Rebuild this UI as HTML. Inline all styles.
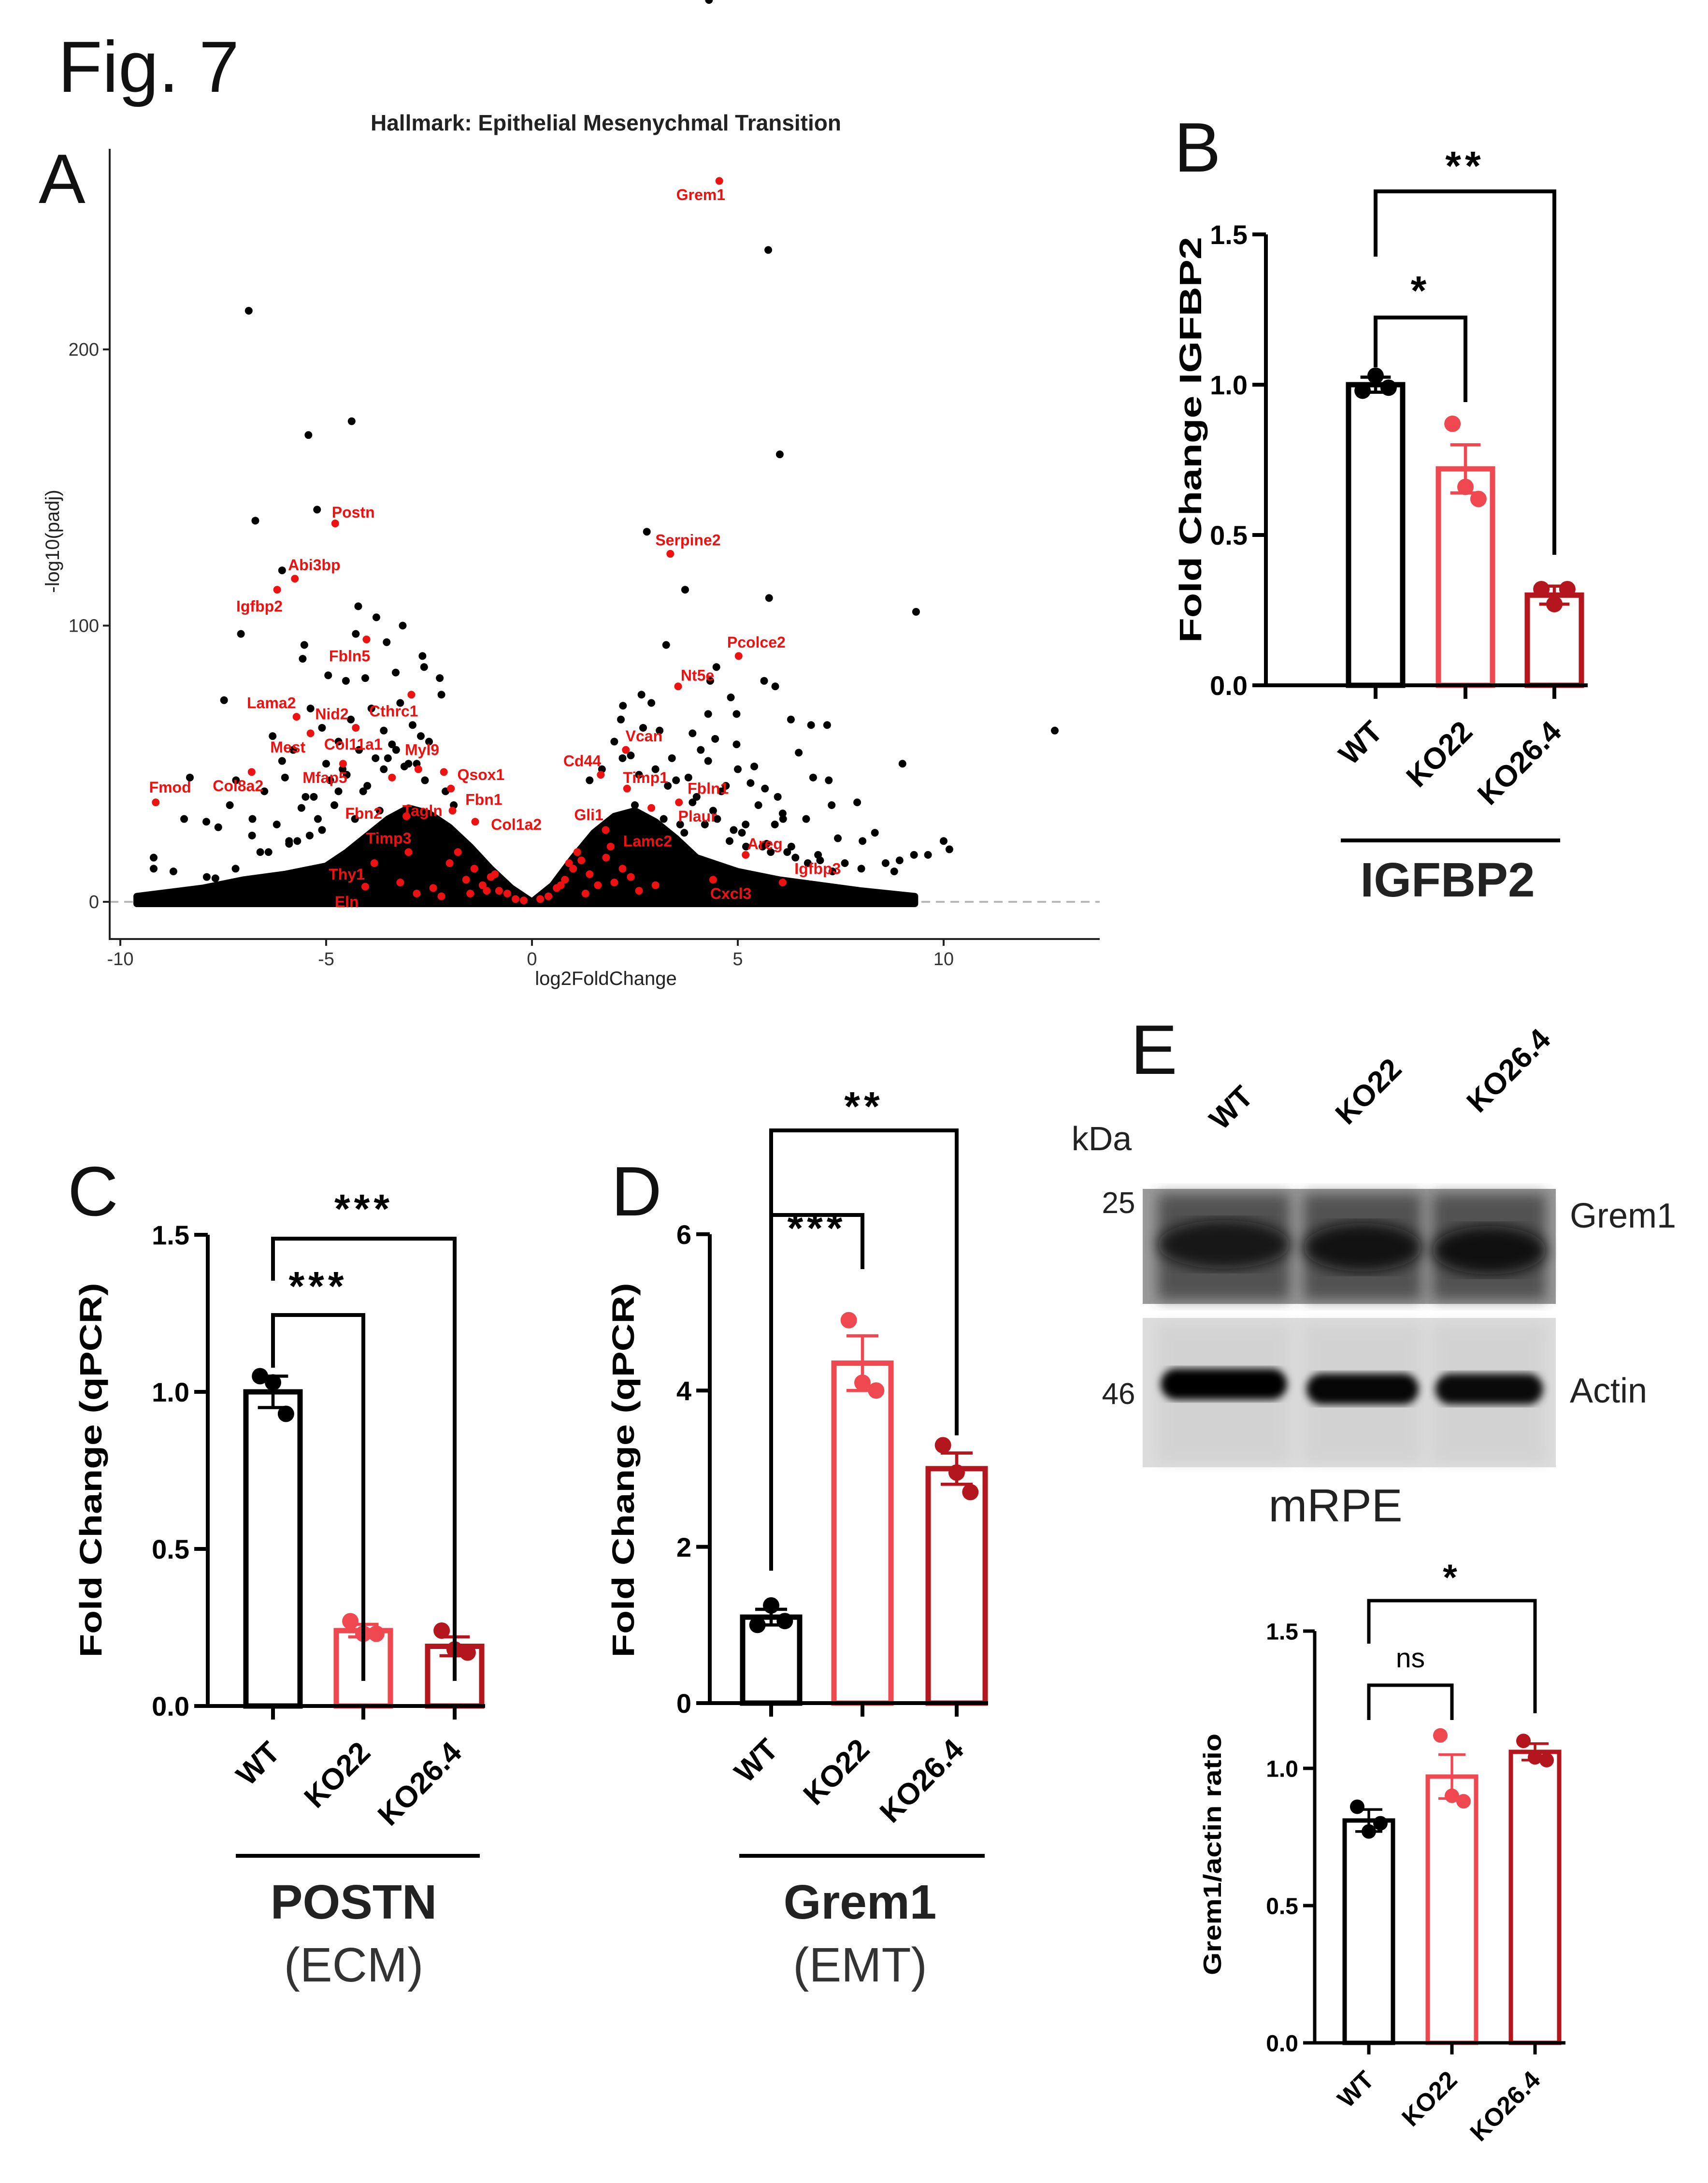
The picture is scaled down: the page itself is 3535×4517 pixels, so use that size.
<!DOCTYPE html>
<html><head><meta charset="utf-8">
<style>
html,body{margin:0;padding:0;background:#fff;}
svg{display:block;font-family:"Liberation Sans",Arial,sans-serif;}
</style></head>
<body>
<svg id="fig" xmlns="http://www.w3.org/2000/svg" width="3535" height="4517" viewBox="0 0 3535 4517">
<defs>
<filter id="blur8"><feGaussianBlur stdDeviation="14"/></filter>
<filter id="blur4"><feGaussianBlur stdDeviation="8"/></filter>
</defs>
<rect width="3535" height="4517" fill="#fff"/>
<text x="120" y="190" font-size="150" fill="#111">Fig. 7</text>
<text x="80" y="420" font-size="145" fill="#111">A</text>
<text x="2430" y="355" font-size="145" fill="#111">B</text>
<text x="140" y="2515" font-size="145" fill="#111">C</text>
<text x="1265" y="2515" font-size="145" fill="#111">D</text>
<text x="2340" y="2222" font-size="145" fill="#111">E</text>
<g id="volcano"></g>
<g id="chartB"></g>
<g id="chartC"></g>
<g id="chartD"></g>
<g id="blot"></g>
<g id="chartE"></g>
</svg>
<script>
// ===== Volcano data =====
const vGenes = ['Grem1','Postn','Serpine2','Abi3bp','Igfbp2','Pcolce2','Nt5e','Fbln5','Lama2','Cthrc1','Nid2','Col11a1','Mest','Myl9','Mfap5','Qsox1','Col8a2','Fmod','Fbn1','Vcan','Cd44','Timp1','Fbln1','Plaur','Gli1','Lamc2','Areg','Igfbp3','Cxcl3','Col1a2','Tagln','Fbn2','Timp3','Thy1','Eln'];
const vGeneX = [4.55,-4.78,3.36,-5.76,-6.19,5.02,3.55,-4.02,-5.72,-2.93,-4.28,-5.38,-4.59,-2.76,-3.40,-2.14,-6.81,-9.14,-1.97,2.28,1.67,2.31,3.57,2.90,1.79,1.91,5.19,6.09,4.40,-1.38,-1.93,-3.05,-3.0,-3.83,-4.05];
const vGeneY = [261,137,126,117,113,89,78,95,67,75,63,61,50,48,45,47,47,36,41,55,46,41,36,34,26,20,17,7,8,29,33,31,18,14,5.5];
const vLabelX = [4.10,-4.34,3.79,-5.29,-6.62,5.45,4.02,-4.43,-6.33,-3.36,-4.86,-4.34,-5.93,-2.67,-5.03,-1.24,-7.14,-8.79,-1.17,2.72,1.22,2.76,4.28,4.02,1.38,2.81,5.66,6.94,4.83,-0.38,-2.66,-4.09,-3.48,-4.5,-4.5];
const vLabelY = [256,141,131,122,107,94,82,89,72,69,68,57,56,55,45,46,42,41.5,37,60,51,45,41,31,31.5,22,21,12,3,28,33,32,23,10,0];
const vBlackX = [5.74,-6.88,-4.38,-5.43,6.02,-5.22,-6.72,2.79,3.72,5.76,9.33,-6.07,-4.22,-7.07,-3.78,-3.14,12.7,3.26,-5.53,-5.57,-2.66,-4.28,-3.53,4.48,5.64,5.91,-7.48,6.29,6.78,7.17,6.48,6.83,7.21,7.28,6.66,8.33,8.03,10.0,10.14,9.28,-8.31,-7.19,-7.34,-8.45,-7.91,-7.62,-6.79,-9.19,-9.19,-8.71,-7.9,-7.69,-6.07,-5.38,-4.95,-4.52,-4.05,-3.31,-2.62,-2.24,4.71,5.31,5.66,5.97,6.09,5.9,5.19,2.66,2.9,2.21,2.16,4.33,4.83,4.97,4.28,3.9,4.45,4.97,4.28,5.4,6.95,7.43,8.59,8.93,9.62,-6.3,-5.8,-5.1,-4.7,-4.4,-3.9,-3.6,-3.2,-2.9,-2.5,-2.2,-1.9,-6.5,-6.0,-5.5,-5.0,-4.6,-4.2,-3.8,-3.4,-3.0,-2.7,-2.4,-5.9,-5.2,-4.8,-4.1,-3.7,-3.3,-2.8,3.1,3.4,3.8,4.1,4.6,5.0,5.5,6.1,2.5,3.2,3.7,4.2,4.8,5.2,5.8,6.4,7.0,7.6,8.0,8.8,9.0,2.0,2.4,2.7,3.0,3.5,4.0,4.4,4.9,5.6,6.3,-6.8,-6.2,-5.6,-5.3,-4.9,-4.5,-4.0,-3.5,-3.1,-2.6,-2.1,-1.7,-6.6,-5.7,-5.1,-4.3,-3.6,-2.3,-7.2,-6.4,-5.9,-5.4,-4.7,1.4,1.7,2.2,2.6,3.3,3.9,4.5,5.1,5.7,6.2,6.7,7.3,7.9,1.6,2.9,3.6,4.3];
const vBlackY = [236,214,174,169,162,142,138,134,113,110,105,120,107,97,103,100,62,93,93,88,89,97,94,85,80,78,73,66,64,64,54,45,44,35,30,25,22,22,19,17,45,44,35,30,29,27,30,16,12,11,9,8.5,51,70,82,80,81,83,85,81,42,43,41,38,32,28,28,75,72,71,66,80,74,68,68,61,59,57,51,49,17,23,14,15,17,60,55,63,58,66,70,62,72,64,58,75,35,40,45,38,50,48,55,52,57,50,60,25,22,30,35,40,33,55,50,62,52,45,55,40,48,35,30,35,30,25,28,22,20,18,16,15,14,12,11,50,58,53,63,48,44,38,33,26,20,20,24,28,34,38,44,46,42,52,49,44,40,14,18,22,26,30,48,15,12,18,21,24,40,44,48,52,46,42,36,30,25,21,18,14,11,36,26,20,28];
const vRedX = [-2.0,-1.8,-1.6,-1.4,-1.2,-1.0,-0.8,-0.6,-0.4,-0.2,0.2,0.4,0.6,0.8,1.0,1.2,1.4,1.6,1.8,2.0,2.2,2.6,-2.4,-2.8,-3.2,1.1,1.3,0.9,-1.1,-1.5,-2.2,3.0,2.4,-0.9,0.7];
const vRedY = [14,18,8,12,6,9,4,3,1,0.5,1,2,5,8,12,15,10,6,16,7,12,4,5,3,7,18,3,14,4,3,2,6,9,10,6];
const vLeftEnvX = [-9.6,-8,-7,-6,-5,-4.5,-4,-3.5,-3,-2.5,-2,-1.5,-1,-0.5,0];
const vLeftEnvY = [2,5,8,10,13,18,24,30,34,32,27,20,12,5,0];
const vRightEnvX = [0,0.5,1,1.5,2,2.5,3,3.5,4,5,6,7,8,9.3];
const vRightEnvY = [0,6,16,25,31,33,29,23,16,11,8,6,4,2];
const vXTicks = [-10,-5,0,5,10];
const vYTicks = [0,100,200];

// ===== Bar chart data =====
const bCats = ['WT','KO22','KO26.4'];
const bMeans = [1.0,0.72,0.30];
const bErr = [0.025,0.08,0.03];
const bPts = [[0.98,1.03,0.99],[0.87,0.66,0.62],[0.32,0.27,0.32]];
const bTicks = ['0.0','0.5','1.0','1.5'];
const cCats = ['WT','KO22','KO26.4'];
const cMeans = [1.0,0.24,0.19];
const cErr = [0.05,0.02,0.03];
const cPts = [[1.05,1.03,0.93],[0.27,0.23,0.23],[0.24,0.18,0.17]];
const cTicks = ['0.0','0.5','1.0','1.5'];
const dCats = ['WT','KO22','KO26.4'];
const dMeans = [1.1,4.35,3.0];
const dErr = [0.1,0.35,0.2];
const dPts = [[1.0,1.25,1.05],[4.9,4.1,4.0],[3.3,2.95,2.7]];
const dTicks = ['0','2','4','6'];
const eCats = ['WT','KO22','KO26.4'];
const eMeans = [0.81,0.97,1.06];
const eErr = [0.04,0.08,0.03];
const ePts = [[0.86,0.77,0.80],[1.12,0.90,0.88],[1.10,1.04,1.03]];
const eTicks = ['0.0','0.5','1.0','1.5'];

const NS='http://www.w3.org/2000/svg';
function mk(parent,tag,attrs,text){const e=document.createElementNS(NS,tag);for(const k in attrs)e.setAttribute(k,attrs[k]);if(text!==undefined)e.textContent=text;parent.appendChild(e);return e;}

// ===== Volcano =====
(function(){
const g=document.getElementById('volcano');
const X0=1101,XU=85.2,Y0=1866,YU=5.715;
const AXY=1943;
const sx=v=>X0+v*XU, sy=v=>Y0-v*YU;
let t=mk(g,'text',{x:1254,y:270,'font-size':46,'font-weight':'bold','text-anchor':'middle',fill:'#222'},'Hallmark: Epithelial Mesenychmal Transition');


let dl=mk(g,'line',{x1:227,x2:2276,y1:sy(0),y2:sy(0),stroke:'#b8b8b8','stroke-width':4,'stroke-dasharray':'18 12'});


[[vLeftEnvX,vLeftEnvY,'left'],[vRightEnvX,vRightEnvY,'right']].forEach(([xs,ys,nm])=>{
 let d='M'+sx(xs[0])+','+(sy(0)+4);
 xs.forEach((x,i)=>{d+=' L'+sx(x)+','+sy(ys[i]);});
 d+=' L'+sx(xs[xs.length-1])+','+(sy(0)+4)+' Z';
 const p=mk(g,'path',{d:d,fill:'#000',stroke:'#000','stroke-width':14,'stroke-linejoin':'round'});
 
 
});
vBlackX.forEach((x,i)=>{
 const c=mk(g,'circle',{cx:sx(x),cy:sy(vBlackY[i]),r:8,fill:'#000'});
 
 
});
vRedX.forEach((x,i)=>{
 const c=mk(g,'circle',{cx:sx(x),cy:sy(vRedY[i]),r:8,fill:'#ee1111'});
 
 
});
vGenes.forEach((n,i)=>{
 const c=mk(g,'circle',{cx:sx(vGeneX[i]),cy:sy(vGeneY[i]),r:8,fill:'#ee1111'});
 
 
 const tt=mk(g,'text',{x:sx(vLabelX[i]),y:sy(vLabelY[i])+11,'font-size':32,'font-weight':'bold','text-anchor':'middle',fill:'#ee1111'},n);
 
 
});
let ax=mk(g,'path',{d:'M227,308 L227,'+AXY+' L2276,'+AXY,fill:'none',stroke:'#222','stroke-width':4});


vXTicks.forEach(v=>{
 mk(g,'line',{x1:sx(v),x2:sx(v),y1:AXY,y2:AXY+14,stroke:'#222','stroke-width':4});
 const tl=mk(g,'text',{x:sx(v),y:AXY+54,'font-size':38,'text-anchor':'middle',fill:'#333'},String(v));
 
 
});
vYTicks.forEach(v=>{
 mk(g,'line',{x1:213,x2:227,y1:sy(v),y2:sy(v),stroke:'#222','stroke-width':4});
 const tl=mk(g,'text',{x:205,y:sy(v)+13,'font-size':38,'text-anchor':'end',fill:'#333'},String(v));
 
 
});
let xt=mk(g,'text',{x:1254,y:2038,'font-size':40,'text-anchor':'middle',fill:'#222'},'log2FoldChange');


let yt=mk(g,'text',{x:0,y:0,'font-size':40,'text-anchor':'middle',fill:'#222',transform:'translate(122,1120) rotate(-90)'},'-log10(padj)');


})();

// ===== Bar chart builder =====
const COLORS=['#000','#ef4850','#b3161c'];
function barChart(id,cfg,cats,means,errs,pts,ticks){
 const g=document.getElementById(id);
 const sy=v=>cfg.y0-v*cfg.unit;
 const tickStep=cfg.tickStep;
 cats.forEach((c,i)=>{
  const cx=cfg.cx[i],w=cfg.bw,top=sy(means[i]);
  const r=mk(g,'rect',{x:cx-w/2,y:top,width:w,height:cfg.y0-top,fill:'#fff',stroke:COLORS[i],'stroke-width':cfg.sw});
  
  
  const eb=mk(g,'path',{d:`M${cx},${sy(means[i]+errs[i])} L${cx},${sy(means[i]-errs[i])} M${cx-w*0.28},${sy(means[i]+errs[i])} L${cx+w*0.28},${sy(means[i]+errs[i])} M${cx-w*0.28},${sy(means[i]-errs[i])} L${cx+w*0.28},${sy(means[i]-errs[i])}`,stroke:COLORS[i],'stroke-width':cfg.sw*0.6,fill:'none'});
  
  
  const offs=[-0.24,0,0.24];
  pts[i].forEach((p,k)=>{
   const d=mk(g,'circle',{cx:cx+offs[k]*w,cy:sy(p),r:cfg.pr,fill:COLORS[i]});
   
   
  });
  mk(g,'line',{x1:cx,x2:cx,y1:cfg.y0,y2:cfg.y0+cfg.tl,stroke:'#000','stroke-width':cfg.aw});
  const lab=mk(g,'text',{x:0,y:0,'font-size':cfg.cf,'font-weight':'bold','text-anchor':'end',fill:'#000',transform:`translate(${cx+cfg.lx},${cfg.y0+cfg.ly}) rotate(-45)`},c);
  
  
 });
 const axis=mk(g,'path',{d:`M${cfg.ax},${sy((ticks.length-1)*tickStep)} L${cfg.ax},${cfg.y0} L${cfg.axEnd},${cfg.y0}`,fill:'none',stroke:'#000','stroke-width':cfg.aw});
 
 
 ticks.forEach((t,k)=>{
  const y=sy(k*tickStep);
  mk(g,'line',{x1:cfg.ax-cfg.tl,x2:cfg.ax,y1:y,y2:y,stroke:'#000','stroke-width':cfg.aw});
  const tl=mk(g,'text',{x:cfg.ax-cfg.tl-10,y:y+cfg.tf*0.36,'font-size':cfg.tf,'font-weight':'bold','text-anchor':'end',fill:'#000'},t);
  
  
 });
 const yt=mk(g,'text',{x:0,y:0,'font-size':cfg.yf,'font-weight':'bold','text-anchor':'middle',fill:'#000',textLength:cfg.ytl,lengthAdjust:'spacingAndGlyphs',transform:`translate(${cfg.ytx},${cfg.yty}) rotate(-90)`},cfg.ytitle);
 
 
 cfg.brackets.forEach(b=>{
  const [i,j,top,lb,rb,lab,ty,bold]=b;
  const p=mk(g,'path',{d:`M${cfg.cx[i]},${lb} L${cfg.cx[i]},${top} L${cfg.cx[j]},${top} L${cfg.cx[j]},${rb}`,fill:'none',stroke:'#000','stroke-width':cfg.aw});
  
  
  const tx=mk(g,'text',{x:(cfg.cx[i]+cfg.cx[j])/2,y:ty,'font-size':bold?cfg.sf:cfg.sf*0.75,'font-weight':bold?'bold':'normal','text-anchor':'middle',fill:'#000','letter-spacing':bold?8:0},lab);
  
  
 });
 if(cfg.under){
  const u=mk(g,'line',{x1:cfg.under[0],x2:cfg.under[1],y1:cfg.under[2],y2:cfg.under[2],stroke:'#000','stroke-width':cfg.aw});
  
  
  const gt=mk(g,'text',{x:cfg.under[3],y:cfg.under[4],'font-size':100,'font-weight':'bold','text-anchor':'middle',fill:'#222'},cfg.gname);
  
  
  if(cfg.sub){
   const st=mk(g,'text',{x:cfg.under[3],y:cfg.under[4]+130,'font-size':100,'text-anchor':'middle',fill:'#333'},cfg.sub);
   
   
  }
 }
}

barChart('chartB',{y0:1418,unit:622,tickStep:0.5,cx:[2847,3033,3217],bw:112,sw:11,pr:17,aw:8,tl:28,ax:2620,axEnd:3286,lx:18,ly:100,cf:62,tf:56,yf:64,ytl:840,ytitle:'Fold Change IGFBP2',ytx:2486,yty:910,sf:84,
 brackets:[[0,2,396,531,1148,'**',372,true],[0,1,657,760,832,'*',630,true]],
 under:[2775,3229,1739,2996,1855],gname:'IGFBP2'},bCats,bMeans,bErr,bPts,bTicks);

barChart('chartC',{y0:3530,unit:650,tickStep:0.5,cx:[565,752,941],bw:112,sw:11,pr:17,aw:8,tl:28,ax:430,axEnd:1004,lx:18,ly:100,cf:62,tf:56,yf:64,ytl:775,ytitle:'Fold Change (qPCR)',ytx:210,yty:3042,sf:84,
 brackets:[[0,2,2563,2650,3478,'***',2530,true],[0,1,2721,2830,3478,'***',2690,true]],
 under:[488,993,3840,732,3970],gname:'POSTN',sub:'(ECM)'},cCats,cMeans,cErr,cPts,cTicks);

barChart('chartD',{y0:3524,unit:161.7,tickStep:2,cx:[1596,1785,1980],bw:118,sw:11,pr:17,aw:8,tl:28,ax:1469,axEnd:2045,lx:18,ly:100,cf:62,tf:56,yf:64,ytl:775,ytitle:'Fold Change (qPCR)',ytx:1312,yty:3042,sf:84,
 brackets:[[0,2,2339,2514,2970,'**',2318,true],[0,1,2514,3250,2626,'***',2570,true]],
 under:[1530,2038,3840,1780,3970],gname:'Grem1',sub:'(EMT)'},dCats,dMeans,dErr,dPts,dTicks);

barChart('chartE',{y0:4227,unit:568,tickStep:0.5,cx:[2833,3005,3177],bw:100,sw:9,pr:15,aw:7,tl:24,ax:2721,axEnd:3240,lx:14,ly:80,cf:52,tf:48,yf:52,ytl:500,ytitle:'Grem1/actin ratio',ytx:2527,yty:3837,sf:76,
 brackets:[[0,2,3312,3401,3545,'*',3290,true],[0,1,3487,3559,3559,'ns',3450,false]]},eCats,eMeans,eErr,ePts,eTicks);

// ===== Western blot =====
(function(){
const g=document.getElementById('blot');
const laneNames=['WT','KO22','KO26.4'];
const laneX=[2533,2820,3082];
const laneW=[273,244,235];
const grem1Dark=[0.85,0.92,0.95];
const actinDark=[1,0.97,0.95];
const b1=mk(g,'rect',{x:2365,y:2460,width:855,height:238,fill:'#9a9a9a'});


const b2=mk(g,'rect',{x:2365,y:2727,width:855,height:309,fill:'#dcdcdc'});


laneX.forEach((x,i)=>{
 const e=mk(g,'rect',{x:x-laneW[i]/2,y:2470,width:laneW[i],height:220,fill:'#3a3a3a',opacity:0.75,filter:'url(#blur8)'});
 
 
 const band=mk(g,'ellipse',{cx:x,cy:2575+i*6,rx:laneW[i]/2,ry:50,fill:'#111',opacity:grem1Dark[i],filter:'url(#blur8)'});
 
 
 const lane2=mk(g,'rect',{x:x-laneW[i]/2,y:2740,width:laneW[i],height:285,fill:'#cfcfcf',opacity:0.7,filter:'url(#blur8)'});
 
 
 const a=mk(g,'rect',{x:x-laneW[i]/2+6,y:2838+(i===0?-6:4),width:laneW[i]-12,height:64,rx:32,fill:'#000',opacity:actinDark[i],filter:'url(#blur4)'});
 
 
 const lt=mk(g,'text',{x:0,y:0,'font-size':62,'font-weight':'bold','text-anchor':'middle',fill:'#000',transform:`translate(${[2563,2847,3137][i]},${[2307,2273,2230][i]}) rotate(-45)`},laneNames[i]);
 
 
});
const labels=[['kDa',2280,2380,70,'middle','kda-label'],['25',2315,2510,62,'middle','marker-25'],['46',2315,2905,62,'middle','marker-46'],['Grem1',3249,2540,72,'start','grem1-label'],['Actin',3249,2902,72,'start','actin-label'],['mRPE',2764,3148,96,'middle','cell-type-label']];
labels.forEach(l=>{
 const t=mk(g,'text',{x:l[1],y:l[2],'font-size':l[3],'text-anchor':l[4],fill:'#222'},l[0]);
 
 
});
})();
</script>
</body></html>
